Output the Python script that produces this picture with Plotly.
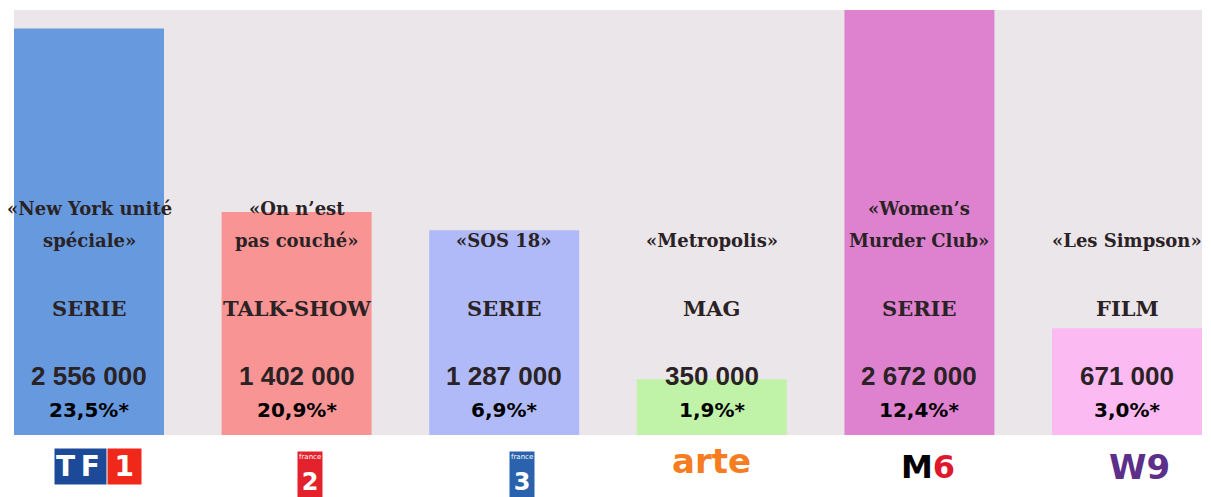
import plotly.graph_objects as go

channels = ["TF1", "France 2", "France 3", "arte", "M6", "W9"]
viewers = [2556000, 1402000, 1287000, 350000, 2672000, 671000]
shares = ["23,5%*", "20,9%*", "6,9%*", "1,9%*", "12,4%*", "3,0%*"]
genres = ["SERIE", "TALK-SHOW", "SERIE", "MAG", "SERIE", "FILM"]
titles = [["«New York unité", "spéciale»"], ["«On n’est", "pas couché»"], ["«SOS 18»"],
          ["«Metropolis»"], ["«Women’s", "Murder Club»"], ["«Les Simpson»"]]
bar_colors = ["#6699dd", "#f99494", "#b0baf8", "#c0f2a8", "#de82d0", "#fcbaf3"]

xs = list(range(len(channels)))
fig = go.Figure(go.Bar(x=xs, y=viewers, width=0.7225, marker=dict(color=bar_colors, line_width=0),
                       hoverinfo="skip"))

TXT = "#2a2224"
SERIF = "DejaVu Serif"
ann = []


def add(**kw):
    kw.setdefault("xref", "x")
    kw.setdefault("yref", "paper")
    kw.setdefault("showarrow", False)
    kw.setdefault("yanchor", "middle")
    ann.append(kw)


for i in xs:
    lines = titles[i]
    ys = [0.534, 0.4565] if len(lines) == 2 else [0.4565]
    for ln, yy in zip(lines, ys):
        add(x=i, y=yy, text=f"<b>{ln}</b>", font=dict(family=SERIF, size=18, color=TXT))
    add(x=i, y=0.2988, text=f"<b>{genres[i]}</b>", font=dict(family=SERIF, size=21, color=TXT))
    add(x=i, y=0.1388, text="<b>" + f"{viewers[i]:,}".replace(",", " ") + "</b>",
        font=dict(family="Liberation Sans", size=26, color=TXT))
    add(x=i, y=0.0588, text=f"<b>{shares[i]}</b>", font=dict(family="DejaVu Sans", size=20, color="#000000"))

LY = -0.075
# TF1 logo
add(x=0, y=LY, xanchor="right", xshift=18, text="<b>T&#8201;F&#8201;</b>", bgcolor="#1d4a98", borderpad=1,
    font=dict(family="DejaVu Sans", size=28, color="white"))
add(x=0, y=LY, xanchor="left", xshift=18, text="<b>&#8201;1&#8201;</b>", bgcolor="#f0281a", borderpad=1,
    font=dict(family="DejaVu Sans", size=28, color="white"))
# France 2 / France 3
for i, col, num, sh in [(1, "#e3222d", "2", 13), (2, "#2a62ae", "3", 18)]:
    add(x=i, y=-0.092, xshift=sh, text=f"<span style='font-size:7px'>france</span><br><b>{num}</b>",
        bgcolor=col, borderpad=1, font=dict(family="DejaVu Sans", size=24, color="white"))
add(x=3, y=-0.06, text="<b>arte</b>", font=dict(family="DejaVu Sans", size=34, color="#f57c1f"))
add(x=4, y=-0.075, xshift=9, text="<b>M<span style='color:#e0182d'>6</span></b>",
    font=dict(family="DejaVu Sans", size=32, color="black"))
add(x=5, y=-0.075, xshift=12, text="<b>W9</b>", font=dict(family="DejaVu Sans", size=34, color="#5b2f8a"))

fig.update_layout(
    width=1211, height=497,
    margin=dict(l=14, r=9, t=10, b=62),
    plot_bgcolor="#ebe6ea", paper_bgcolor="white",
    showlegend=False, annotations=ann,
    xaxis=dict(range=[-0.36125, 5.36125], visible=False, fixedrange=True),
    yaxis=dict(range=[0, 2672000], visible=False, fixedrange=True),
)
fig.write_html("out.html", config={"displayModeBar": False})
